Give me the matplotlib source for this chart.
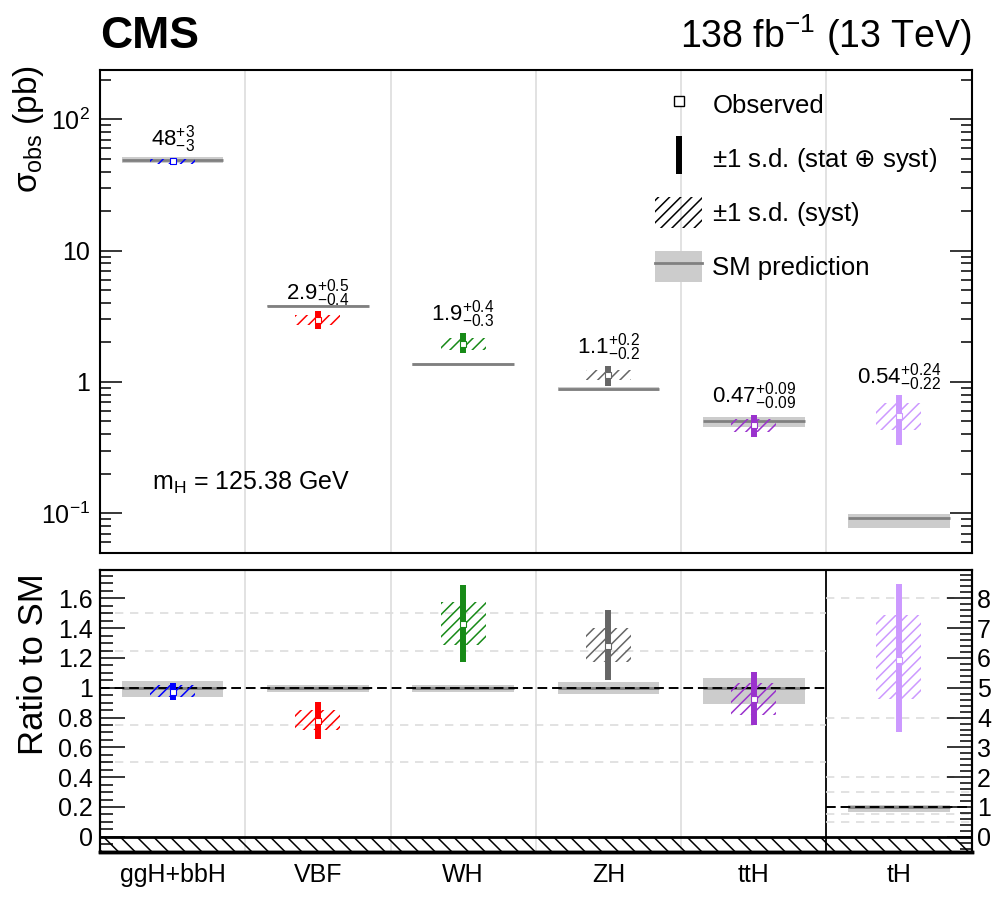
import numpy as np
import matplotlib
matplotlib.use('Agg')
import matplotlib.pyplot as plt
from matplotlib.lines import Line2D
from matplotlib.patches import Patch
from matplotlib.ticker import MultipleLocator, FixedLocator, LogLocator, NullFormatter, FuncFormatter

plt.rcParams['font.family'] = ['Liberation Sans', 'DejaVu Sans']
plt.rcParams['mathtext.fontset'] = 'custom'
plt.rcParams['mathtext.rm'] = 'Liberation Sans'
plt.rcParams['mathtext.it'] = 'Liberation Sans:italic'
plt.rcParams['mathtext.bf'] = 'Liberation Sans:bold'
plt.rcParams['mathtext.sf'] = 'DejaVu Sans'
plt.rcParams['hatch.linewidth'] = 1.1

# production modes
procs = ['ggH+bbH', 'VBF', 'WH', 'ZH', 'ttH', 'tH']
colors = ['#0000ff', '#ff0000', '#178a17', '#666666', '#9a32cd', '#cc99ff']

# SM prediction (pb) and relative uncertainty
sm_xs = [49.3, 3.81, 1.37, 0.885, 0.507, 0.0926]
sm_unc_up = [0.047, 0.02, 0.02, 0.036, 0.065, 0.067]
sm_unc_dn = [0.06, 0.03, 0.03, 0.044, 0.11, 0.17]

# observed cross sections (pb)
obs_xs = [48, 2.95, 1.95, 1.13, 0.47, 0.55]
tot_up = [3, 0.5, 0.4, 0.2, 0.09, 0.24]
tot_dn = [3, 0.4, 0.3, 0.2, 0.09, 0.22]
syst_up = [2.0, 0.27, 0.21, 0.10, 0.053, 0.14]
syst_dn = [2.0, 0.25, 0.19, 0.09, 0.054, 0.12]
val_txt = ['48', '2.9', '1.9', '1.1', '0.47', '0.54']
up_txt = ['3', '0.5', '0.4', '0.2', '0.09', '0.24']
dn_txt = ['3', '0.4', '0.3', '0.2', '0.09', '0.22']

# ratio to SM (tH)
ratio = [0.971, 0.78, 1.427, 1.282, 0.927, 5.92]
ratio_tot_up = [0.06, 0.122, 0.262, 0.238, 0.178, 2.55]
ratio_tot_dn = [0.056, 0.122, 0.251, 0.229, 0.18, 2.40]
ratio_syst_up = [0.047, 0.069, 0.151, 0.116, 0.104, 1.51]
ratio_syst_dn = [0.033, 0.065, 0.138, 0.106, 0.107, 1.31]

grid_main = [0.5, 0.75, 1.25, 1.5]
grid_th = [0.5, 0.75, 1.5, 2, 4, 8]

BAND_W = 0.7
HATCH_W = 0.31
SM_FILL = '#cccccc'
SM_LINE = '#808080'
SEP = '#dddddd'


def draw_point(ax, x, y, up, dn, sup, sdn, sm, sm_up, sm_dn, color):
    ax.bar(x, sm * (sm_up + sm_dn), bottom=sm * (1 - sm_dn), width=BAND_W,
           color=SM_FILL, lw=0, zorder=2)
    ax.hlines(sm, x - BAND_W / 2, x + BAND_W / 2, color=SM_LINE, lw=2, zorder=3)
    ax.bar(x, sup + sdn, bottom=y - sdn, width=HATCH_W, fill=False,
           hatch='///', edgecolor=color, lw=0, zorder=4)
    ax.vlines(x, y - dn, y + up, color=color, lw=4.3, zorder=5)
    ax.plot(x, y, 's', mfc='white', mec=color, ms=4, mew=0.8, zorder=6)


fig = plt.figure(figsize=(9.95, 8.97), dpi=100)
ax = fig.add_axes([0.1005, 0.3838, 0.876, 0.538])
axb = fig.add_axes([0.1005, 0.0505, 0.876, 0.314])

xs = np.arange(len(procs))

# ---- top panel
ax.set_yscale('log')
ax.set_xlim(-0.5, 5.5)
ax.set_ylim(0.05, 237)
for s in np.arange(0.5, 5, 1):
    ax.axvline(s, color=SEP, lw=1.2, zorder=1)
for i in range(len(procs)):
    draw_point(ax, xs[i], obs_xs[i], tot_up[i], tot_dn[i], syst_up[i], syst_dn[i],
               sm_xs[i], sm_unc_up[i], sm_unc_dn[i], colors[i])
    ax.annotate(val_txt[i] + r'$^{+%s}_{-%s}$' % (up_txt[i], dn_txt[i]),
                xy=(xs[i], obs_xs[i] + tot_up[i]), xytext=(0, 2),
                textcoords='offset points', ha='center', va='bottom', fontsize=16)

ax.yaxis.set_major_locator(FixedLocator([0.1, 1, 10, 100]))
ax.yaxis.set_major_formatter(FuncFormatter(
    lambda v, p: {0.1: r'$10^{-1}$', 1: '1', 10: '10', 100: r'$10^{2}$'}.get(round(v, 3), '')))
ax.yaxis.set_minor_locator(LogLocator(base=10, subs=np.arange(2, 10)))
ax.yaxis.set_minor_formatter(NullFormatter())
ax.tick_params(axis='y', which='major', direction='in', left=True, right=True,
               length=16, width=1.1, labelsize=18, pad=7)
ax.tick_params(axis='y', which='minor', direction='in', left=True, right=True,
               length=8, width=1.1)
ax.tick_params(axis='x', bottom=False, top=False, labelbottom=False)
for sp in ax.spines.values():
    sp.set_linewidth(1.5)
ax.set_ylabel('σ$_\\mathregular{obs}$ (pb)', fontsize=24, loc='top')
ax.yaxis.set_label_coords(-0.062, 1.01)

ax.text(0.06, 0.144, r'm$_\mathregular{H}$ = 125.38 GeV', transform=ax.transAxes,
        fontsize=18, va='center', ha='left')

handles = [
    Line2D([0], [0], ls='none', marker='s', mfc='white', mec='black', ms=7, mew=1),
    Line2D([0], [0], ls='none', marker='|', color='black', ms=27, mew=4.3),
    Patch(fill=False, hatch='///', edgecolor='black', lw=0),
    (Patch(facecolor=SM_FILL, lw=0), Line2D([0], [0], color=SM_LINE, lw=2)),
]
labels = ['Observed', r'$\pm$1 s.d. (stat $\mathsf{\oplus}$ syst)', r'$\pm$1 s.d. (syst)',
          'SM prediction']
ax.legend(handles, labels, loc='upper left', bbox_to_anchor=(0.637, 0.961),
          frameon=False, fontsize=18.5, handlelength=1.83, handleheight=1.48,
          labelspacing=0.89, handletextpad=0.39, borderpad=0, borderaxespad=0)

# ---- ratio panel
axb.set_xlim(-0.5, 5.5)
axb.set_ylim(-0.1, 1.79)
ax2 = axb.twinx()
ax2.set_ylim(-0.5, 8.95)

for s in np.arange(0.5, 4, 1):
    axb.axvline(s, color=SEP, lw=1.2, zorder=1)
axb.axvline(4.5, color='black', lw=1.3, zorder=1)
axb.hlines(grid_main, -0.5, 4.5, colors=SEP, linestyles=(0, (5, 4)), lw=1.2, zorder=1)
ax2.hlines(grid_th, 4.5, 5.5, colors=SEP, linestyles=(0, (5, 4)), lw=1.2, zorder=1)

for i in range(len(procs)):
    target = ax2 if procs[i] == 'tH' else axb
    draw_point(target, xs[i], ratio[i], ratio_tot_up[i], ratio_tot_dn[i],
               ratio_syst_up[i], ratio_syst_dn[i], 1.0, sm_unc_up[i], sm_unc_dn[i], colors[i])

axb.hlines(1, -0.5, 4.5, color='black', lw=1.4, linestyles=(0, (5, 2.5)), zorder=3.5)
ax2.hlines(1, 4.5, 5.5, color='black', lw=1.4, linestyles=(0, (5, 2.5)), zorder=3.5)

axb.axhline(0, color='black', lw=2, zorder=7)
axb.axhspan(-0.1, 0, fill=False, hatch='\\\\', edgecolor='black', lw=0, zorder=1)

axb.yaxis.set_major_locator(MultipleLocator(0.2))
axb.yaxis.set_minor_locator(MultipleLocator(0.05))
axb.yaxis.set_major_formatter(FuncFormatter(lambda v, p: '%g' % round(v, 2)))
axb.tick_params(axis='y', which='major', direction='in', left=True, right=False,
                length=18, width=1.1, labelsize=18, pad=5)
axb.tick_params(axis='y', which='minor', direction='in', left=True, right=False,
                length=9, width=1.1)
axb.set_xticks(xs, procs)
axb.tick_params(axis='x', length=0, labelsize=18, pad=8)

ax2.yaxis.set_major_locator(MultipleLocator(1))
ax2.yaxis.set_minor_locator(MultipleLocator(0.2))
ax2.tick_params(axis='y', which='major', direction='in', length=18, width=1.1,
                labelsize=18, pad=4)
ax2.tick_params(axis='y', which='minor', direction='in', length=9, width=1.1)

for a in (axb, ax2):
    for sp in a.spines.values():
        sp.set_linewidth(1.5)
    a.spines['bottom'].set_linewidth(2.5)

axb.set_ylabel('Ratio to SM', fontsize=25, loc='top')
axb.yaxis.set_label_coords(-0.057, 0.99)

fig.text(0.1005, 1 - 48 / 897, 'CMS', fontsize=32, fontweight='bold', va='baseline')
fig.text(0.9766, 1 - 48 / 897, r'138 fb$^{-1}$ (13 TeV)', fontsize=27,
         ha='right', va='baseline')

fig.savefig('out.png', dpi=100)
